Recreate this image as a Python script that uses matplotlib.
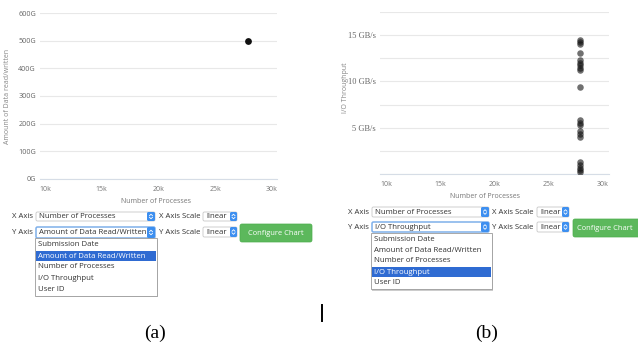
import matplotlib
matplotlib.use("Agg")
import matplotlib.pyplot as plt
from matplotlib.patches import Rectangle, FancyBboxPatch
import numpy as np

# ---------------- data ----------------
procs_a = [27900]
data_rw_a = [500]            # G
procs_b = [27900] * 21
throughput_b = [14.5, 14.3, 14.0, 13.1, 12.3, 12.0, 11.75, 11.5, 11.2, 9.4,
                5.8, 5.5, 5.25, 4.6, 4.3, 4.0, 1.25, 1.0, 0.7, 0.45, 0.25]  # GB/s

x_ticks = [10000, 15000, 20000, 25000, 30000]
x_ticklabels = ["10k", "15k", "20k", "25k", "30k"]
y_ticks_a = [0, 100, 200, 300, 400, 500, 600]
y_ticklabels_a = ["0G", "100G", "200G", "300G", "400G", "500G", "600G"]
y_ticks_b = [0, 2.5, 5, 7.5, 10, 12.5, 15, 17.5]
y_ticklabels_b = ["", "", "5 GB/s", "", "10 GB/s", "", "15 GB/s", ""]

options = ["Submission Date", "Amount of Data Read/Written", "Number of Processes",
           "I/O Throughput", "User ID"]

W, H = 638, 347
fig = plt.figure(figsize=(W / 100, H / 100), dpi=100)
fig.patch.set_facecolor("white")

SANS = ["Open Sans", "DejaVu Sans"]
SERIF = ["Liberation Serif", "DejaVu Serif"]


def px_axes(x0, x1, y0, y1):
    return fig.add_axes([x0 / W, 1 - y1 / H, (x1 - x0) / W, (y1 - y0) / H])


def style_chart(ax, ylabel, yticks, yticklabels, ylim, xlim, label_font, yfs, ylab_pos, xlab_pos):
    ax.set_xlim(*xlim)
    ax.set_ylim(*ylim)
    ax.set_xticks(x_ticks)
    ax.set_xticklabels(x_ticklabels, fontsize=5.0, color="#777", family=SANS)
    ax.set_yticks(yticks)
    ax.set_yticklabels(yticklabels, fontsize=yfs, color="#666", family=label_font)
    ax.tick_params(axis="both", length=0)
    ax.tick_params(axis="x", pad=5)
    ax.tick_params(axis="y", pad=3)
    ax.grid(axis="y", color="#e8e8e8", lw=0.8)
    ax.set_axisbelow(True)
    for s in ["top", "right", "left"]:
        ax.spines[s].set_visible(False)
    ax.spines["bottom"].set_color("#d6dde6")
    ax.spines["bottom"].set_linewidth(0.8)
    ax.set_ylabel(ylabel, fontsize=5.0, color="#888", family=SANS)
    ax.yaxis.set_label_coords(*ylab_pos)
    ax.set_xlabel("Number of Processes", fontsize=5.0, color="#777", family=SANS)
    ax.xaxis.set_label_coords(*xlab_pos)


# ---------------- chart (a) ----------------
axa = px_axes(40, 277, 13, 179)
axa.scatter(procs_a, data_rw_a, s=24, color="#111111", zorder=3, linewidths=0)
style_chart(axa, "Amount of Data read/written", y_ticks_a, y_ticklabels_a,
            (0, 600), (9560, 30440), SANS, 5.2, (-0.122, 0.5), (0.49, -0.115))

# ---------------- chart (b) ----------------
axb = px_axes(380, 609, 12, 174)
axb.scatter(procs_b, throughput_b, s=22, color="#111111", alpha=0.6, zorder=3, linewidths=0)
style_chart(axb, "I/O Throughput", y_ticks_b, y_ticklabels_b,
            (0, 17.5), (9450, 30550), SERIF, 6.0, (-0.135, 0.53), (0.46, -0.117))

# ---------------- UI overlay (pixel coordinates) ----------------
ui = fig.add_axes([0, 0, 1, 1], zorder=10)
ui.set_xlim(0, W)
ui.set_ylim(H, 0)
ui.axis("off")
ui.patch.set_alpha(0)

TXT = "#333333"
UFS = 5.6


def label(x, y, s, **kw):
    kw.setdefault("fontsize", UFS)
    kw.setdefault("color", TXT)
    return ui.text(x, y, s, va="center", ha=kw.pop("ha", "left"), family=SANS, **kw)


def stepper(x0, x1, y0, y1):
    ui.add_patch(FancyBboxPatch((x0, y0), x1 - x0, y1 - y0,
                                boxstyle="round,pad=0,rounding_size=1.5",
                                fc="#3d8ff0", ec="none", zorder=3))
    cx = (x0 + x1) / 2
    cy = (y0 + y1) / 2
    ui.plot([cx - 1.5, cx, cx + 1.5], [cy - 0.8, cy - 2.3, cy - 0.8], color="white", lw=0.6, zorder=4)
    ui.plot([cx - 1.5, cx, cx + 1.5], [cy + 0.8, cy + 2.3, cy + 0.8], color="white", lw=0.6, zorder=4)


def select(x0, x1, y0, y1, text, focus=False, step_w=8):
    ec = "#7fb0ea" if focus else "#c8c8c8"
    lw = 1.1 if focus else 0.6
    box = FancyBboxPatch((x0, y0), x1 - x0, y1 - y0, boxstyle="round,pad=0,rounding_size=1.5",
                         fc="white", ec=ec, lw=lw, zorder=2)
    ui.add_patch(box)
    t = label(x0 + 3, (y0 + y1) / 2, text, zorder=2.5)
    clip = Rectangle((x0, y0), x1 - x0 - step_w, y1 - y0, transform=ui.transData)
    t.set_clip_path(clip)
    stepper(x1 - step_w, x1, y0, y1)


def dropdown(x0, x1, y0, item_ys, sel):
    y1 = item_ys[-1] + 6
    ui.add_patch(Rectangle((x0 + 1, y0 + 1.5), x1 - x0, y1 - y0, fc="#cccccc", ec="none", zorder=4.5))
    ui.add_patch(Rectangle((x0, y0), x1 - x0, y1 - y0, fc="white", ec="#9a9a9a", lw=0.6, zorder=5))
    for i, (opt, yy) in enumerate(zip(options, item_ys)):
        col = TXT
        if i == sel:
            ui.add_patch(Rectangle((x0 + 1, yy - 5), x1 - x0 - 2, 10, fc="#2f6bd2", ec="none", zorder=5.5))
            col = "white"
        label(x0 + 3, yy, opt, color=col, zorder=6)


def button(x0, x1, y0, y1, cx):
    ui.add_patch(FancyBboxPatch((x0, y0), x1 - x0, y1 - y0, boxstyle="round,pad=0,rounding_size=2",
                                fc="#5cb85c", ec="#4cae4c", lw=0.5, zorder=2))
    label(cx, (y0 + y1) / 2, "Configure Chart", color="white", ha="center", zorder=3, fontsize=5.4)


# panel (a) controls
label(12, 216.5, "X Axis")
select(36, 155, 212, 221, "Number of Processes")
label(159, 216.5, "X Axis Scale")
select(203, 237, 212, 221, "linear", step_w=7)
label(12, 232, "Y Axis")
select(36, 155, 227, 238, "Amount of Data Read/Written", focus=True)
label(159, 232, "Y Axis Scale")
select(203, 237, 227, 237, "linear", step_w=7)
button(240, 312, 224, 242, 276)
dropdown(35, 157, 238, [244, 256, 267, 279, 289.5], sel=1)

# panel (b) controls
label(348, 212, "X Axis")
select(372, 489, 207, 217, "Number of Processes")
label(492, 212, "X Axis Scale")
select(537, 569, 207, 217, "linear", step_w=7)
label(348, 227, "Y Axis")
select(372, 489, 222, 232, "I/O Throughput", focus=True)
label(492, 227, "Y Axis Scale")
select(537, 569, 222, 232, "linear", step_w=7)
button(573, 640, 219, 237, 605)
dropdown(371, 492, 233, [239, 250, 261, 272, 283], sel=3)

# cursor bar and captions
ui.plot([322, 322], [305, 321], color="black", lw=1.4)
ui.text(155, 333, "(a)", ha="center", va="center", fontsize=14, family=SERIF, color="black")
ui.text(487, 333, "(b)", ha="center", va="center", fontsize=14, family=SERIF, color="black")

fig.savefig("out.png", dpi=100, facecolor="white")
